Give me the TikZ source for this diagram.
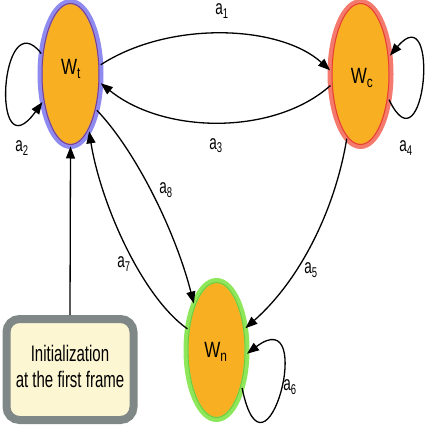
\documentclass[tikz,border=0pt]{standalone}
\usepackage{fontspec}
\setmainfont{Liberation Sans}
\usepackage{graphicx}
\usetikzlibrary{shapes.geometric,arrows.meta}
\definecolor{orfill}{HTML}{F8B022}
\definecolor{wtout}{HTML}{8F8AF0}
\definecolor{wtin}{HTML}{7B3F8C}
\definecolor{wcout}{HTML}{F47A6E}
\definecolor{wcin}{HTML}{E8402A}
\definecolor{wnout}{HTML}{8EE65A}
\definecolor{wnin}{HTML}{6CC83A}
\definecolor{boxgray}{HTML}{7F8886}
\definecolor{cream}{HTML}{FDF6D3}
\newcommand\alab[1]{\scalebox{1}[1.5]{a\textsubscript{#1}}}
\newcommand\wlab[1]{\scalebox{1}[1.3]{W\textsubscript{#1}}}
\begin{document}
\begin{tikzpicture}[x=1pt,y=-1pt,
  state/.style={ellipse, inner sep=0pt, outer sep=0pt, minimum width=61pt, minimum height=145pt, fill=orfill, line width=5pt},
  edge/.style={line width=1.3pt, -{Triangle[length=12pt,width=9pt]}},
  lab/.style={font=\fontsize{13.5}{13.5}\selectfont, inner sep=0pt},
  wl/.style={font=\fontsize{17}{17}\selectfont, inner sep=0pt},
  initbox/.style={draw=boxgray, line width=8pt, fill=cream, rounded corners=13pt, minimum width=127pt, minimum height=101pt, inner sep=0pt, font=\fontsize{15}{17}\selectfont}]
\useasboundingbox (0,0) rectangle (425,425);
% states
\node[state, draw=wtout] (wt) at (70.5,74) {};
\node[state, draw=wcout] (wc) at (360.5,74) {};
\node[state, draw=wnout, minimum height=139pt] (wn) at (216.5,350) {};
\draw[wtin, line width=1pt] (wt.center) ellipse [x radius=28.5, y radius=70.5];
\draw[wcin, line width=1pt] (wc.center) ellipse [x radius=28.5, y radius=70.5];
\draw[wnin, line width=0.8pt] (wn.center) ellipse [x radius=28.5, y radius=67.5];
\node[wl] (wtl) at (71,69) {\wlab{t}};
\node[wl] (wcl) at (362,78) {\wlab{c}};
\node[wl] (wnl) at (216,352) {\wlab{n}};
% init box
\node[initbox] (init) at (70,369.5) {\raisebox{-7pt}{\scalebox{1}[1.5]{\begin{tabular}{@{}c@{}}Initialization\\at the first frame\end{tabular}}}};
% edges
\draw[edge] (init.north) -- (wt.south);
\draw[edge] (wt.17) .. controls (170,20) and (280,25) .. (wc.173);
\draw[edge] (wc.201.5) .. controls (275,135) and (165,135) .. (wt.-17);
\draw[edge] (wt.-54) .. controls (135,150) and (175,230) .. (wn.116);
\draw[edge] (wn.144) .. controls (140,295) and (100,200) .. (wt.-72);
\draw[edge] (wc.-102) .. controls (335,210) and (300,280) .. (wn.37);
\draw[edge] (wt.145) .. controls (0,0) and (-10,175) .. (wt.225);
\draw[edge] (wc.-42) .. controls (425,175) and (441,-5) .. (wc.32);
\draw[edge] (wn.-56) .. controls (265,500) and (318,300) .. (wn.-7);
% labels
\node[lab] (l1) at (222,11) {\alab{1}};
\node[lab] (l2) at (22,148) {\alab{2}};
\node[lab] (l3) at (216,146) {\alab{3}};
\node[lab] (l4) at (406,148) {\alab{4}};
\node[lab] (l5) at (311,270) {\alab{5}};
\node[lab] (l6) at (290,387) {\alab{6}};
\node[lab] (l7) at (124,264) {\alab{7}};
\node[lab] (l8) at (166,190) {\alab{8}};
\end{tikzpicture}
\end{document}
